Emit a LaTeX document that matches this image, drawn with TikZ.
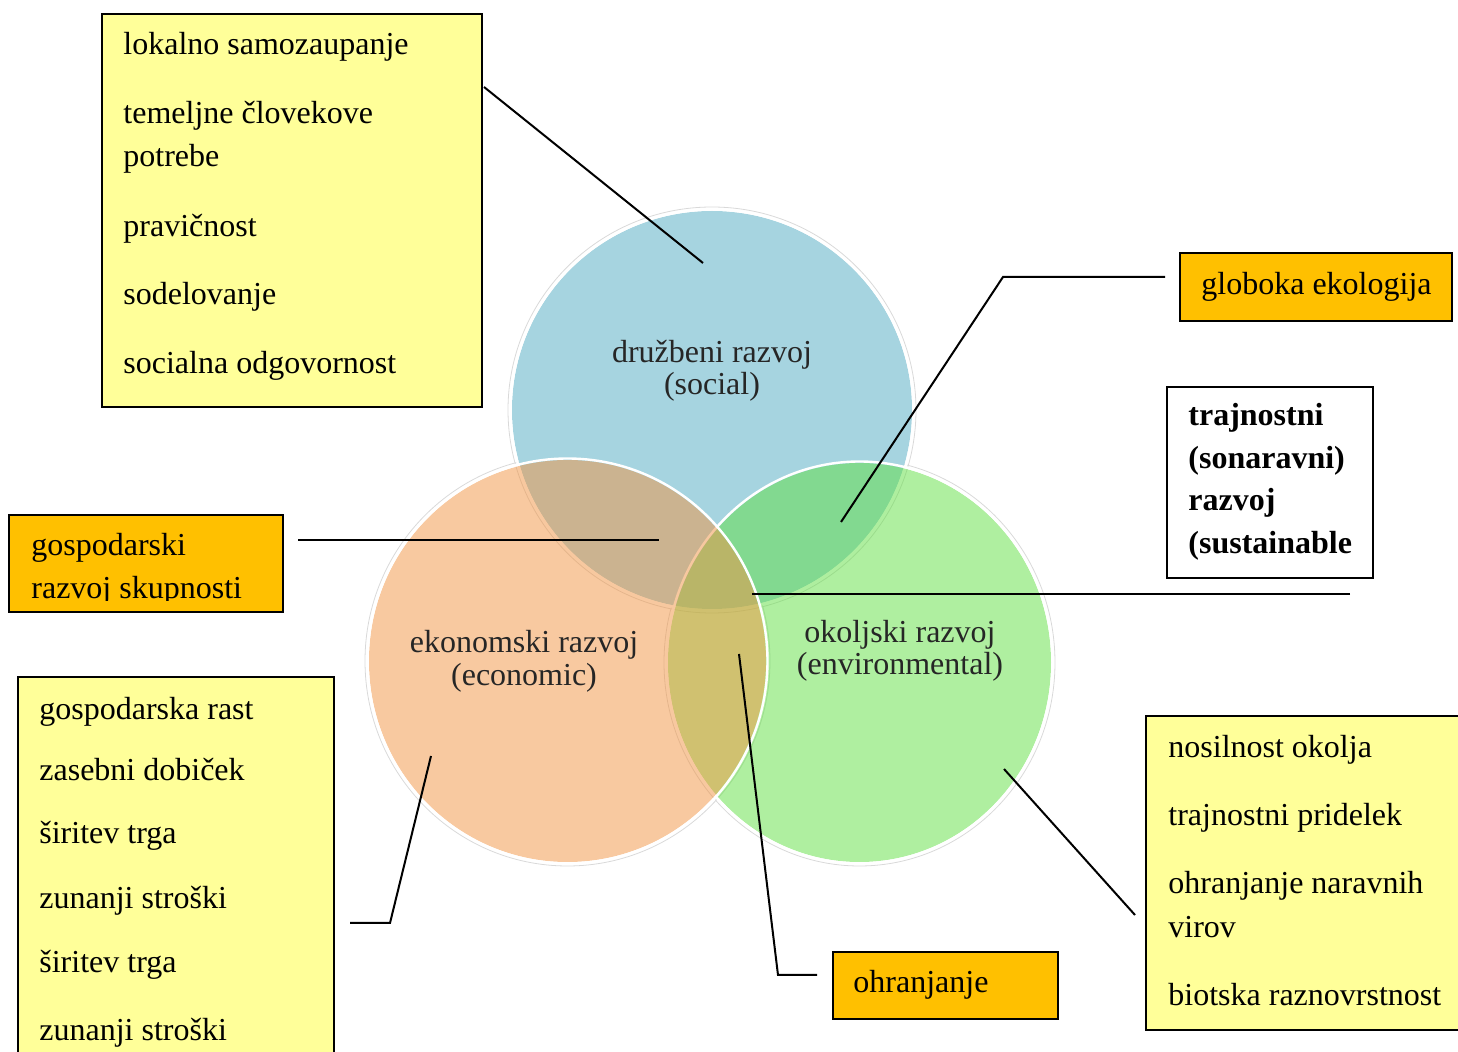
\documentclass[tikz,border=0pt]{standalone}
\usepackage{fontspec}
\setmainfont{Liberation Serif}
\usetikzlibrary{fit}
\definecolor{cblue}{RGB}{166,212,224}
\definecolor{cgreen}{RGB}{95,223,65}
\definecolor{corange}{RGB}{241,147,65}
\definecolor{boxyellow}{RGB}{255,255,153}
\definecolor{boxorange}{RGB}{255,192,0}
\begin{document}
\begin{tikzpicture}[x=0.5pt,y=-0.5pt,
  txt/.style={anchor=base west, inner sep=0pt, font=\fontsize{16pt}{19pt}\selectfont},
  btxt/.style={txt, font=\fontsize{16pt}{19pt}\selectfont\bfseries},
  lbl/.style={anchor=base, inner sep=0pt, font=\fontsize{16pt}{19pt}\selectfont, text=black!85},
  ybox/.style={draw=black, line width=1pt, fill=boxyellow, inner sep=0pt},
  obox/.style={draw=black, line width=1pt, fill=boxorange, inner sep=0pt},
  wbox/.style={draw=black, line width=1pt, fill=white, inner sep=0pt},
  conn/.style={draw=black, line width=1pt},
  ring/.style={draw=white, line width=1.2pt},
  halo/.style={draw=black!15, line width=0.4pt}]
\useasboundingbox (0,0) rectangle (1458,1052);
\clip (0,0) rectangle (1458,1052);

% circle centres
\coordinate (cS) at (712,410);
\coordinate (cE) at (567.5,661);
\coordinate (cV) at (859.5,662.5);

% halos
\draw[halo] (cS) ellipse [x radius=204, y radius=203];
\draw[halo] (cV) ellipse [x radius=195.5, y radius=203.5];
\draw[halo] (cE) ellipse [x radius=202.5, y radius=205];

% social (blue)
\fill[cblue] (cS) ellipse [x radius=200, y radius=199];
\draw[ring] (cS) ellipse [x radius=201.5, y radius=200.5];
% environmental (green)
\fill[cgreen, fill opacity=0.5] (cV) ellipse [x radius=191.5, y radius=199.5];
\draw[ring] (cV) ellipse [x radius=193, y radius=201];
% economic (orange)
\fill[corange, fill opacity=0.5] (cE) ellipse [x radius=198.5, y radius=201];
\draw[ring] (cE) ellipse [x radius=200, y radius=202.5];

% circle labels
\node[lbl] (lS1) at (712,363) {družbeni razvoj};
\node[lbl] (lS2) at (712,395) {(social)};
\node[lbl] (lE1) at (524,653) {ekonomski razvoj};
\node[lbl] (lE2) at (524,686) {(economic)};
\node[lbl] (lV1) at (900,643) {okoljski razvoj};
\node[lbl] (lV2) at (900,675) {(environmental)};

% ---- boxes ----
% social list
\coordinate (b1a) at (102,14); \coordinate (b1b) at (482,407);
\node[ybox, fit=(b1a)(b1b)] (boxSoc) {};
\node[txt] (t11) at (123,55) {lokalno samozaupanje};
\node[txt] (t12) at (123,124) {temeljne človekove};
\node[txt] (t13) at (123,167) {potrebe};
\node[txt] (t14) at (123,237) {pravičnost};
\node[txt] (t15) at (123,305) {sodelovanje};
\node[txt] (t16) at (123,374) {socialna odgovornost};

% globoka ekologija
\coordinate (b2a) at (1180,253); \coordinate (b2b) at (1452,321);
\node[obox, fit=(b2a)(b2b)] (boxGlob) {};
\node[txt] (t21) at (1201,295) {globoka ekologija};

% trajnostni
\coordinate (b3a) at (1167,387); \coordinate (b3b) at (1373,578);
\node[wbox, fit=(b3a)(b3b)] (boxTraj) {};
\node[btxt] (t31) at (1188,426) {trajnostni};
\node[btxt] (t32) at (1188,469) {(sonaravni)};
\node[btxt] (t33) at (1188,511) {razvoj};
\node[btxt] (t34) at (1188,554) {(sustainable};

% gospodarski razvoj skupnosti
\coordinate (b4a) at (9,515); \coordinate (b4b) at (283,612);
\node[obox, fit=(b4a)(b4b)] (boxGosp) {};
\begin{scope}
\clip (10,516) rectangle (282,601);
\node[txt] (t41) at (31,556) {gospodarski};
\node[txt] (t42) at (31,599) {razvoj skupnosti};
\end{scope}

% economic list
\coordinate (b5a) at (18,677); \coordinate (b5b) at (334,1080);
\node[ybox, fit=(b5a)(b5b)] (boxEco) {};
\node[txt] (t51) at (39,720) {gospodarska rast};
\node[txt] (t52) at (39,781) {zasebni dobiček};
\node[txt] (t53) at (39,844) {širitev trga};
\node[txt] (t54) at (39,909) {zunanji stroški};
\node[txt] (t55) at (39,973) {širitev trga};
\node[txt] (t56) at (39,1041) {zunanji stroški};

% ohranjanje
\coordinate (b6a) at (833,952); \coordinate (b6b) at (1058,1019);
\node[obox, fit=(b6a)(b6b)] (boxOhr) {};
\node[txt] (t61) at (853,993) {ohranjanje};

% environmental list
\coordinate (b7a) at (1146,716); \coordinate (b7b) at (1480,1030);
\node[ybox, fit=(b7a)(b7b)] (boxEnv) {};
\node[txt] (t71) at (1168,758) {nosilnost okolja};
\node[txt] (t72) at (1168,826) {trajnostni pridelek};
\node[txt] (t73) at (1168,894) {ohranjanje naravnih};
\node[txt] (t74) at (1168,938) {virov};
\node[txt] (t75) at (1168,1006) {biotska raznovrstnost};

% ---- connectors ----
\coordinate (k1a) at (484,87);   \coordinate (k1b) at (703,263);
\draw[conn] (k1a) -- (k1b);
\coordinate (k2a) at (1165,277); \coordinate (k2m) at (1003,277); \coordinate (k2b) at (841,522);
\draw[conn] (k2a) -- (k2m) -- (k2b);
\coordinate (k3a) at (1350,594); \coordinate (k3b) at (752,594);
\draw[conn] (k3a) -- (k3b);
\coordinate (k4a) at (298,540);  \coordinate (k4b) at (659,540);
\draw[conn] (k4a) -- (k4b);
\coordinate (k5a) at (350,923);  \coordinate (k5m) at (390,923); \coordinate (k5b) at (431,756);
\draw[conn] (k5a) -- (k5m) -- (k5b);
\coordinate (k6a) at (817,975);  \coordinate (k6m) at (778,975); \coordinate (k6b) at (739,654);
\draw[conn] (k6a) -- (k6m) -- (k6b);
\coordinate (k7a) at (1135,915); \coordinate (k7b) at (1004,769);
\draw[conn] (k7a) -- (k7b);
\end{tikzpicture}
\end{document}
